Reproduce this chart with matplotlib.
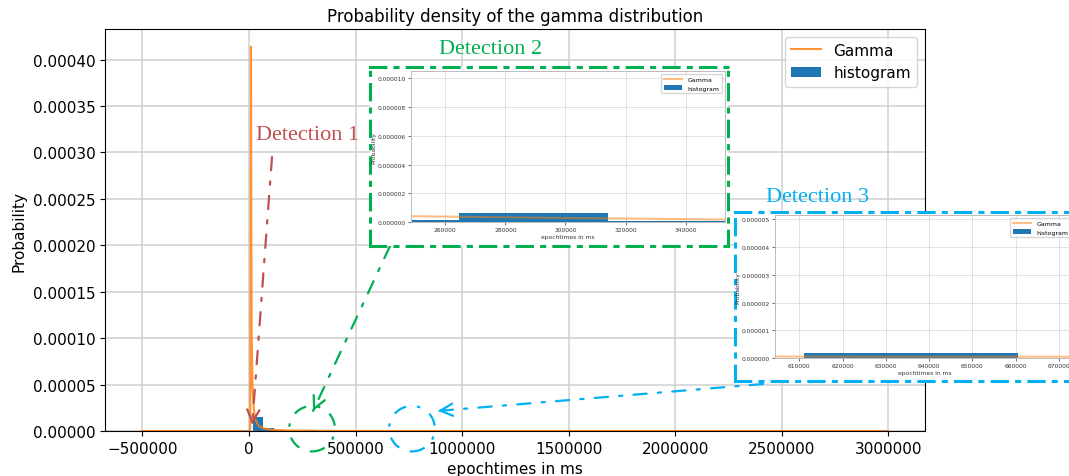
import matplotlib.pyplot as plt
import numpy as np
from matplotlib.patches import Ellipse
from matplotlib.ticker import FormatStrFormatter

# gamma curve
gamma_x = [-500000, 0, 6000, 9000, 12000, 16000, 22000, 30000, 45000, 70000,
           110000, 170000, 250000, 300000, 350000, 500000, 1000000, 3000000]
gamma_y = [0, 0, 0.000002, 0.000414, 0.00011, 0.00005, 0.000025, 0.000012,
           0.0000055, 0.0000026, 0.0000013, 0.0000007, 0.00000042, 0.0000003,
           0.0000002, 0.00000008, 0.00000001, 0]

# histogram (density) bins
hist_edges = [17000, 66500, 116000, 165500, 215000, 264500, 314000, 363500,
              413000, 462500, 512000, 561500, 611000, 660500]
hist_heights = [0.0000150, 0.0000030, 0.0000012, 0.0000005, 0.00000016,
                0.00000063, 0.00000008, 0, 0, 0, 0, 0, 0.00000019]

main_xticks = [-500000, 0, 500000, 1000000, 1500000, 2000000, 2500000, 3000000]
main_yticks = [0, 0.00005, 0.0001, 0.00015, 0.0002, 0.00025, 0.0003, 0.00035, 0.0004]
inset2_xticks = [260000, 280000, 300000, 320000, 340000]
inset2_yticks = [0, 0.000002, 0.000004, 0.000006, 0.000008, 0.00001]
inset3_xticks = [610000, 620000, 630000, 640000, 650000, 660000, 670000]
inset3_yticks = [0, 0.000001, 0.000002, 0.000003, 0.000004, 0.000005]

W, H = 1069, 477
fig = plt.figure(figsize=(W / 100, H / 100), dpi=100)

widths = np.diff(hist_edges)

ax = fig.add_axes([105 / W, 45 / H, 820 / W, 402 / H])
ax.plot(gamma_x, gamma_y, color='tab:orange', alpha=0.85, lw=1.5, label='Gamma')
ax.bar(hist_edges[:-1], hist_heights, width=widths, align='edge', color='#1f77b4', label='histogram')
ax.set_xlim(-676000, 3173000)
ax.set_ylim(0, 0.000433)
ax.set_xticks(main_xticks)
ax.set_yticks(main_yticks)
ax.ticklabel_format(axis='x', style='plain')
ax.yaxis.set_major_formatter(FormatStrFormatter('%.5f'))
ax.tick_params(labelsize=11)
ax.grid(True, color='#cfcfcf', lw=1.1)
ax.set_axisbelow(True)
ax.set_title('Probability density of the gamma distribution', fontsize=12)
ax.set_xlabel('epochtimes in ms', fontsize=11)
ax.set_ylabel('Probability', fontsize=11)
ax.legend(loc='upper right', fontsize=11)

# circles and arrows pointing at the zoomed regions
red, green, cyan = '#c0504d', '#00b050', '#00b0f0'
dash = (0, (5, 3, 1, 3))
thin_dash = (0, (6, 5, 1.5, 5))
for cx, col in [(296000, green), (765000, cyan)]:
    ax.add_patch(Ellipse((cx, 0.0000025), 215000, 0.000049, fill=False,
                         ec=col, lw=1.6, ls=thin_dash, clip_on=False))

arrows = [((15000, 0.000007), (272, 319), red),
          ((300500, 0.0000216), (390, 230), green),
          ((887000, 0.0000216), (763, 92), cyan)]
for head, tail, col in arrows:
    # dash-dot shaft
    ax.annotate('', xy=head, xycoords='data', xytext=tail, textcoords='figure pixels',
                arrowprops=dict(arrowstyle='-', color=col, lw=1.6, ls=thin_dash,
                                shrinkA=0, shrinkB=0),
                annotation_clip=False)
    # solid head
    head_px = ax.transData.transform(head)
    d = head_px - np.array(tail)
    start = head_px - d / np.hypot(*d) * 3
    ax.annotate('', xy=head, xycoords='data', xytext=tuple(start), textcoords='figure pixels',
                arrowprops=dict(arrowstyle='->', color=col, lw=1.6,
                                mutation_scale=22, shrinkA=0, shrinkB=0),
                annotation_clip=False)


def draw_inset(box, inner, col, xlim, ylim, xticks, yticks):
    frame = fig.add_axes(box)
    frame.set_xticks([])
    frame.set_yticks([])
    for sp in frame.spines.values():
        sp.set_color(col)
        sp.set_linewidth(2.2)
        sp.set_linestyle(dash)
    ins = fig.add_axes(inner)
    ins.plot(gamma_x, gamma_y, color='tab:orange', alpha=0.5, lw=1.5, label='Gamma')
    ins.bar(hist_edges[:-1], hist_heights, width=widths, align='edge', color='#1f77b4', label='histogram')
    ins.set_xlim(*xlim)
    ins.set_ylim(*ylim)
    ins.set_xticks(xticks)
    ins.set_yticks(yticks)
    ins.ticklabel_format(axis='x', style='plain')
    ins.yaxis.set_major_formatter(FormatStrFormatter('%.6f'))
    ins.tick_params(labelsize=4.3, length=2, width=0.5, pad=1.5, colors='#333333')
    ins.grid(True, color='#dddddd', lw=0.6)
    ins.set_axisbelow(True)
    for sp in ins.spines.values():
        sp.set_color('#bbbbbb')
        sp.set_linewidth(0.7)
    ins.set_xlabel('epochtimes in ms', fontsize=4.3, labelpad=1, color='#333333')
    ins.set_ylabel('Probability', fontsize=4.3, labelpad=1, color='#333333')
    ins.legend(loc='upper right', fontsize=4.5, handlelength=3)


draw_inset([370 / W, (H - 247) / H, 358 / W, 179 / H],
           [411 / W, (H - 223.3) / H, 314 / W, 151.3 / H], green,
           (248600, 353100), (0, 0.0000105), inset2_xticks, inset2_yticks)
draw_inset([735 / W, (H - 382) / H, 345 / W, 169 / H],
           [775 / W, (H - 359.3) / H, 299 / W, 143.3 / H], cyan,
           (604400, 673500), (0, 0.00000515), inset3_xticks, inset3_yticks)

serif = ['Liberation Serif', 'DejaVu Serif']
fig.text(308 / W, 1 - 136 / H, 'Detection 1', color=red, fontsize=16, family=serif, ha='center', va='center')
fig.text(491 / W, 1 - 50 / H, 'Detection 2', color=green, fontsize=16, family=serif, ha='center', va='center')
fig.text(817 / W, 1 - 198 / H, 'Detection 3', color=cyan, fontsize=16, family=serif, ha='center', va='center')

fig.savefig('out.png', dpi=100)
